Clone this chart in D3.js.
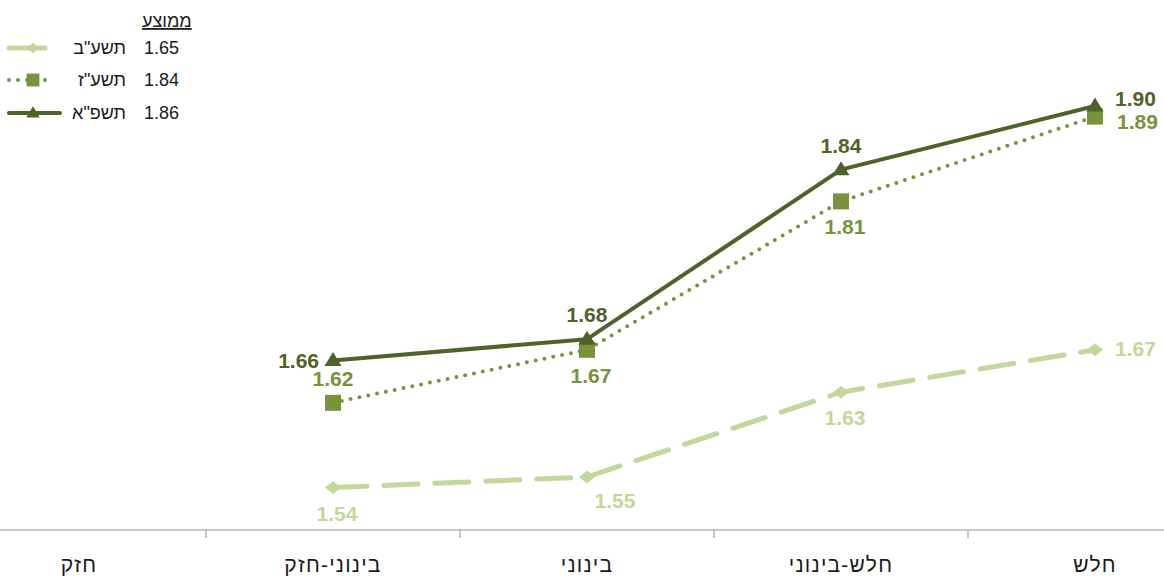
<!DOCTYPE html>
<html>
<head>
<meta charset="utf-8">
<script src="https://cdn.jsdelivr.net/npm/d3@7/dist/d3.min.js"></script>
<style>
  html, body { margin: 0; padding: 0; background: #fff; }
  svg { display: block; font-family: "Liberation Sans", Arial, sans-serif; }
</style>
</head>
<body>
<svg id="chart" width="1164" height="579"></svg>
<script>
// ---- data ----
const categories = ["חזק", "בינוני-חזק", "בינוני", "חלש-בינוני", "חלש"];
const seriesNames = ['תשע"ב', 'תשע"ז', 'תשפ"א'];
const averages = [1.65, 1.84, 1.86];
const averageTitle = "ממוצע";
const values2012 = [null, 1.54, 1.55, 1.63, 1.67];
const values2017 = [null, 1.62, 1.67, 1.81, 1.89];
const values2021 = [null, 1.66, 1.68, 1.84, 1.90];
// where each data label sits relative to its point
const labelPlace2012 = [null, "below", "belowRight", "below", "right"];
const labelPlace2017 = [null, "above", "below", "below", "rightBelow"];
const labelPlace2021 = [null, "left", "above", "above", "rightAbove"];

const colors = ["#c4d79b", "#77933c", "#4f6228"];
const dashes = ["34,17", "0,9", null];
const widths = [5, 4, 4];
const markers = ["diamond", "square", "triangle"];

const series = [
  { name: seriesNames[0], values: values2012, place: labelPlace2012 },
  { name: seriesNames[1], values: values2017, place: labelPlace2017 },
  { name: seriesNames[2], values: values2021, place: labelPlace2021 }
];

const svg = d3.select("#chart");
const W = 1164, H = 579;

const x = d3.scaleBand().domain(categories).range([-48, 1222]).paddingInner(0).paddingOuter(0);
const y = d3.scaleLinear().domain([1.5, 2.0]).range([530, 0]);
const cx = c => x(c) + x.bandwidth() / 2;

// ---- axis ----
const axisG = svg.append("g");
axisG.append("line").attr("x1", 0).attr("x2", W).attr("y1", y(1.5)).attr("y2", y(1.5))
  .attr("stroke", "#b5b5b5").attr("stroke-width", 1.5);
categories.slice(1).forEach(c => {
  axisG.append("line").attr("x1", x(c)).attr("x2", x(c))
    .attr("y1", y(1.5)).attr("y2", y(1.5) + 8)
    .attr("stroke", "#b5b5b5").attr("stroke-width", 1.5);
});
categories.forEach(c => {
  axisG.append("text").attr("x", cx(c)).attr("y", 572)
    .attr("text-anchor", "middle").attr("font-size", 21).attr("letter-spacing", 1.2)
    .attr("fill", "#1a1a1a")
    .text(c);
});

// ---- markers ----
function drawMarker(g, kind, px, py, color, scale) {
  let p;
  if (kind === "diamond") {
    const w = 8 * scale, h = 6.5 * scale;
    p = `M${px - w},${py}L${px},${py - h}L${px + w},${py}L${px},${py + h}Z`;
    g.append("path").attr("d", p).attr("fill", color);
  } else if (kind === "square") {
    const s = 8 * scale;
    g.append("rect").attr("x", px - s).attr("y", py - s).attr("width", 2 * s).attr("height", 2 * s).attr("fill", color);
  } else {
    const w = 8.5 * scale, h = 14 * scale;
    p = `M${px},${py - h * 0.6}L${px + w},${py + h * 0.4}L${px - w},${py + h * 0.4}Z`;
    g.append("path").attr("d", p).attr("fill", color);
  }
}

// ---- lines, markers, labels ----
const line = d3.line().defined(d => d.v !== null).x(d => cx(d.c)).y(d => y(d.v));

series.forEach((s, i) => {
  const g = svg.append("g");
  const pts = s.values.map((v, k) => ({ c: categories[k], v: v, place: s.place[k] }));
  g.append("path").datum(pts).attr("d", line)
    .attr("fill", "none").attr("stroke", colors[i]).attr("stroke-width", widths[i])
    .attr("stroke-linecap", "round").attr("stroke-linejoin", "round")
    .attr("stroke-dasharray", dashes[i]);
  pts.filter(d => d.v !== null).forEach(d => drawMarker(g, markers[i], cx(d.c), y(d.v), colors[i], 1));
});

series.forEach((s, i) => {
  const g = svg.append("g");
  s.values.forEach((v, k) => {
    if (v === null) return;
    const px = cx(categories[k]), py = y(v);
    let tx = px, ty = py, anchor = "middle";
    const pl = s.place[k];
    if (pl === "above") { ty = py - 17; }
    else if (pl === "below") { ty = py + 33; tx = px + 4; }
    else if (pl === "belowRight") { ty = py + 31; tx = px + 28; }
    else if (pl === "left") { tx = px - 14; ty = py + 8; anchor = "end"; }
    else if (pl === "right") { tx = px + 20; ty = py + 6; anchor = "start"; }
    else if (pl === "rightAbove") { tx = px + 20; ty = py + 0; anchor = "start"; }
    else if (pl === "rightBelow") { tx = px + 22; ty = py + 12; anchor = "start"; }
    g.append("text").attr("x", tx).attr("y", ty).attr("text-anchor", anchor)
      .attr("font-size", 21).attr("font-weight", "bold").attr("fill", colors[i])
      .text(d3.format(".2f")(v));
  });
});

// ---- legend ----
const lg = svg.append("g");
lg.append("text").attr("x", 142).attr("y", 27).attr("font-size", 18).attr("fill", "#1a1a1a")
  .attr("text-decoration", "underline").text(averageTitle);
const rowsY = [48, 80, 113];
series.forEach((s, i) => {
  const ry = rowsY[i];
  lg.append("line").attr("x1", 9).attr("x2", i === 0 ? 45 : (i === 1 ? 52 : 60))
    .attr("y1", ry).attr("y2", ry)
    .attr("stroke", colors[i]).attr("stroke-width", widths[i])
    .attr("stroke-linecap", "round")
    .attr("stroke-dasharray", i === 0 ? null : dashes[i]);
  drawMarker(lg, markers[i], 33, ry, colors[i], 0.8);
  lg.append("text").attr("x", 126).attr("y", ry + 6).attr("text-anchor", "end")
    .attr("font-size", 18).attr("fill", "#1a1a1a").text(s.name);
  lg.append("text").attr("x", 144).attr("y", ry + 6).attr("font-size", 18).attr("fill", "#1a1a1a")
    .text(d3.format(".2f")(averages[i]));
});
</script>
</body>
</html>
